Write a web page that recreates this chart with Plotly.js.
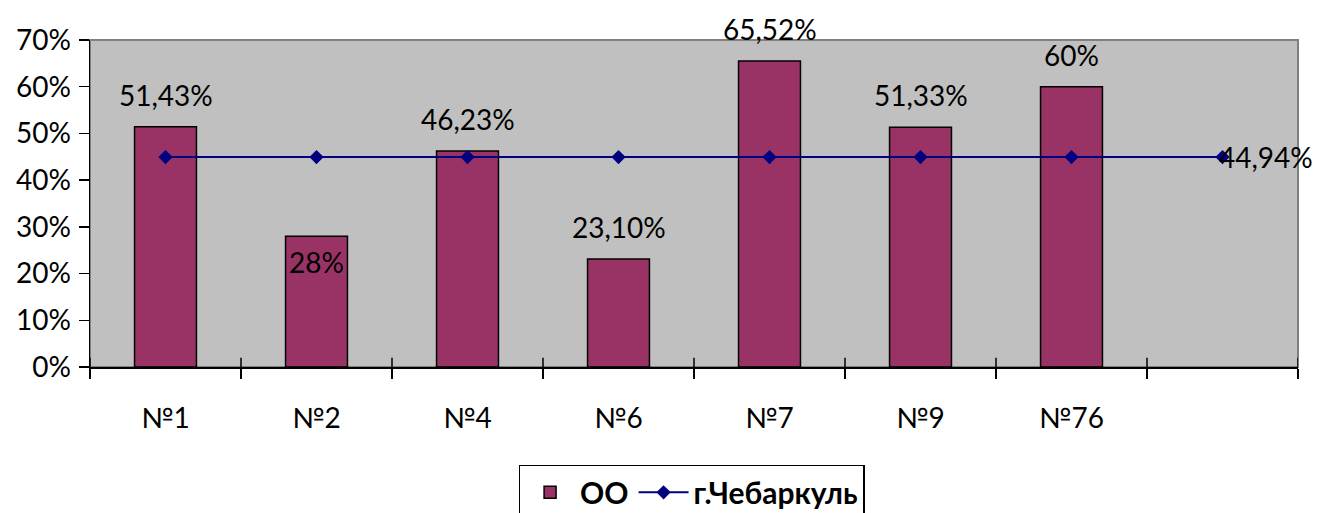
<!DOCTYPE html>
<html><head><meta charset="utf-8">
<script src="https://cdn.plot.ly/plotly-3.0.1.min.js"></script>
<style>html,body{margin:0;padding:0;background:#fff}#chart{width:1317px;height:513px}</style>
</head><body><div id="chart"></div>
<script>
const categories = ['№1','№2','№4','№6','№7','№9','№76',' '];
const schoolValues = [0.5143, 0.28, 0.4623, 0.2310, 0.6552, 0.5133, 0.60];
const schoolLabels = ['51,43%','28%','46,23%','23,10%','65,52%','51,33%','60%'];
const cityValues = [0.4494, 0.4494, 0.4494, 0.4494, 0.4494, 0.4494, 0.4494, 0.4494];
const cityLabel = '44,94%';
const yTickVals = [0, 0.1, 0.2, 0.3, 0.4, 0.5, 0.6, 0.7];
const seriesNames = ['ОО', 'г.Чебаркуль'];

const FONT = 'Lato, "Open Sans", sans-serif';
const FS = 28;
const traces = [
  {type:'bar', name:seriesNames[0], x:categories.slice(0, schoolValues.length), y:schoolValues,
   marker:{color:'#993366', line:{color:'#000', width:1.5}}, width:0.41, hoverinfo:'skip'},
  {type:'scatter', mode:'lines+markers', name:seriesNames[1], x:categories, y:cityValues,
   line:{color:'#000080', width:2}, marker:{symbol:'diamond', size:11, color:'#000080'}, hoverinfo:'skip'}
];
const annotations = schoolValues.map((v,i)=>({
  x:categories[i], y:v, xref:'x', yref:'y', text:schoolLabels[i], showarrow:false,
  yshift: schoolLabels[i]==='28%' ? -26 : 32, font:{family:FONT, size:FS, color:'#000'}
}));
annotations.push({x:categories[cityValues.length-1], y:cityValues[cityValues.length-1], xref:'x', yref:'y',
  text:cityLabel, showarrow:false, xanchor:'left', xshift:-6, font:{family:FONT, size:FS, color:'#000'}});
const shapes = [
  {type:'rect', xref:'paper', yref:'paper', x0:0, x1:1, y0:0, y1:1, line:{color:'#808080', width:2}, layer:'below'}
];
for (let i = 0; i <= categories.length; i++) {
  shapes.push({type:'line', xref:'x', yref:'paper', x0:i-0.5, x1:i-0.5, y0:0, y1:0.028, line:{color:'#000', width:1.5}});
}
const layout = {
  width:1317, height:513,
  margin:{l:90, r:19, t:40, b:146, autoexpand:false},
  paper_bgcolor:'#fff', plot_bgcolor:'#C0C0C0',
  separators:', ',
  showlegend:true,
  legend:{orientation:'h', x:0.498, xanchor:'center', yref:'container', y:0.094, yanchor:'top',
    bordercolor:'#000', borderwidth:1.5, bgcolor:'#fff', itemwidth:50,
    font:{family:FONT, size:30, color:'#000', weight:'bold'}},
  xaxis:{type:'category', categoryorder:'array', categoryarray:categories, range:[-0.5, categories.length-0.5],
    showline:true, linecolor:'#000', linewidth:1.5, ticks:'outside', ticklen:10, tickwidth:1.5, tickcolor:'#000',
    tickson:'boundaries', showgrid:false, zeroline:false, ticklabelstandoff:26,
    tickfont:{family:FONT, size:FS, color:'#000'}, fixedrange:true},
  yaxis:{range:[0, 0.7], tickvals:yTickVals, tickformat:'.0%', showline:true, linecolor:'#000', linewidth:1.5,
    ticks:'outside', ticklen:10, tickwidth:1.5, tickcolor:'#000', showgrid:false, zeroline:false,
    tickfont:{family:FONT, size:FS, color:'#000'}, ticklabelstandoff:2, fixedrange:true},
  annotations:annotations, shapes:shapes, bargap:0.59
};
Plotly.newPlot('chart', traces, layout, {staticPlot:true});
</script></body></html>
